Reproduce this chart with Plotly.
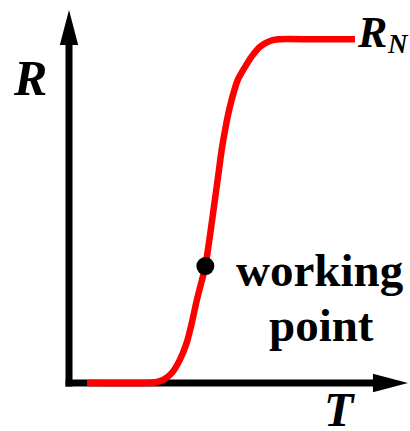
import plotly.graph_objects as go

# Resistance-temperature transition curve (arbitrary units)
T_vals = [0.53, 2.38, 2.59, 2.77, 3.02, 3.26, 3.46, 3.61, 3.76, 4.01, 4.29,
          4.41, 4.49, 4.59, 4.71, 4.83, 4.97, 5.18, 5.37, 5.62, 5.86, 6.15,
          7.20, 8.41]
R_vals = [0.00, 0.00, 0.03, 0.09, 0.29, 0.68, 1.18, 1.76, 2.44, 3.44, 5.38,
          6.26, 6.85, 7.44, 8.03, 8.50, 8.93, 9.30, 9.60, 9.89, 10.04, 10.11,
          10.11, 10.11]

# Working point on the transition edge
wp_T = [4.01]
wp_R = [3.44]

# Axis extents (arrow tips)
T_tip = 9.97
R_tip = 10.97

SERIF = "Liberation Serif, Times New Roman, serif"

fig = go.Figure()

fig.add_trace(go.Scatter(
    x=T_vals, y=R_vals, mode="lines",
    line=dict(color="#ff0000", width=6.5, shape="spline", smoothing=0.6),
    hoverinfo="skip", showlegend=False,
))
fig.add_trace(go.Scatter(
    x=wp_T, y=wp_R, mode="markers",
    marker=dict(color="black", size=18),
    hoverinfo="skip", showlegend=False,
))

# Axes drawn as thick arrows
head_len = 1.03
head_half = 0.27
fig.add_shape(type="line", x0=0, y0=-0.1, x1=0, y1=R_tip - head_len + 0.05,
              line=dict(color="black", width=7), layer="below")
fig.add_shape(type="path",
              path=f"M {-head_half},{R_tip - head_len} L 0,{R_tip} L {head_half},{R_tip - head_len} Z",
              fillcolor="black", line=dict(color="black", width=0), layer="below")
fig.add_shape(type="line", x0=-0.1, y0=0, x1=T_tip - head_len + 0.05, y1=0,
              line=dict(color="black", width=7), layer="below")
fig.add_shape(type="path",
              path=f"M {T_tip - head_len},{-head_half} L {T_tip},0 L {T_tip - head_len},{head_half} Z",
              fillcolor="black", line=dict(color="black", width=0), layer="below")


def label(text, x, y, size, italic=True):
    t = f"<b>{text}</b>"
    if italic:
        t = f"<i>{t}</i>"
    fig.add_annotation(
        x=x, y=y, text=t, showarrow=False,
        xanchor="center", yanchor="middle",
        font=dict(family=SERIF, size=size, color="black"),
    )


label("R", -1.16, 8.97, 50)
label("R", 8.91, 10.32, 44)
label("N", 9.68, 9.97, 27)
label("T", 7.97, -0.78, 48)
label("working", 7.38, 3.32, 47, italic=False)
label("point", 7.44, 1.71, 47, italic=False)

fig.update_layout(
    template="none",
    font=dict(family=SERIF, color="black"),
    width=410, height=431,
    margin=dict(l=0, r=0, t=0, b=0),
    paper_bgcolor="white", plot_bgcolor="white",
    xaxis=dict(range=[-69 / 34, 341 / 34], visible=False, fixedrange=True),
    yaxis=dict(range=[-48 / 34, 383 / 34], visible=False, fixedrange=True),
)

fig.write_html("out.html")
